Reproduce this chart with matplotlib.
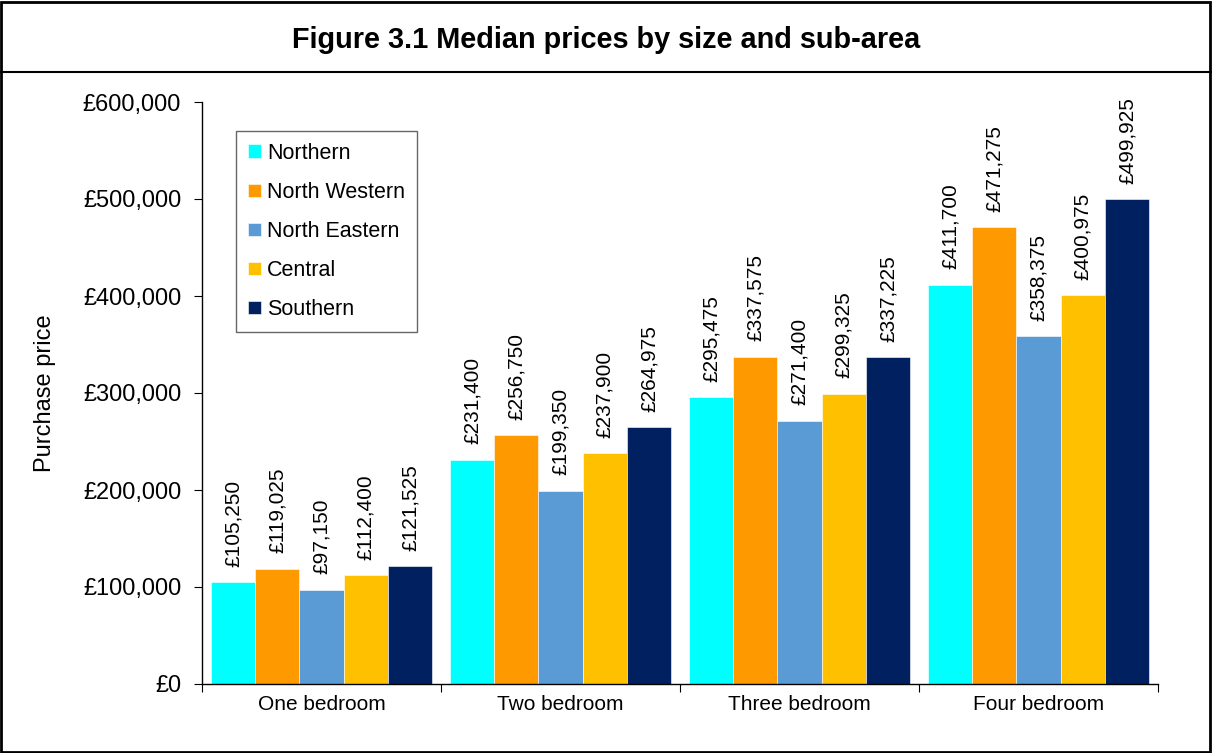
import numpy as np
import matplotlib.pyplot as plt
from matplotlib.lines import Line2D
from matplotlib.patches import Rectangle
from matplotlib.ticker import FuncFormatter, FixedLocator

plt.rc('font', family='Liberation Sans')

#### data
categories = ['One bedroom', 'Two bedroom', 'Three bedroom', 'Four bedroom']
areas = ['Northern', 'North Western', 'North Eastern', 'Central', 'Southern']
northern = [105250, 231400, 295475, 411700]
north_western = [119025, 256750, 337575, 471275]
north_eastern = [97150, 199350, 271400, 358375]
central = [112400, 237900, 299325, 400975]
southern = [121525, 264975, 337225, 499925]
series = [northern, north_western, north_eastern, central, southern]
colors = ['#00FFFF', '#FF9900', '#5B9BD5', '#FFC000', '#002060']

#### figure
fig = plt.figure(figsize=(12.12, 7.53), dpi=100)
ax = fig.add_axes([202/1212, 1-684/753, (1158-202)/1212, (684-102)/753])

bar_w = 0.185
x = np.arange(len(categories))
for i, (vals, col) in enumerate(zip(series, colors)):
    pos = x + (i - 2) * bar_w
    ax.bar(pos, vals, width=bar_w, color=col, edgecolor='white', linewidth=0.4, label=areas[i])
    for xp, v in zip(pos, vals):
        ax.annotate(f'£{v:,}', (xp, v), xytext=(0, 11), textcoords='offset points',
                    rotation=90, ha='center', va='bottom', fontsize=15)

ax.set_xlim(-0.5, len(categories) - 0.5)
ax.set_ylim(0, 600000)
ax.set_yticks(np.arange(0, 600001, 100000))
ax.yaxis.set_major_formatter(FuncFormatter(lambda v, p: f'£{int(v):,}'))
ax.tick_params(axis='y', labelsize=17, length=6, pad=9)

ax.xaxis.set_major_locator(FixedLocator(np.arange(-0.5, len(categories), 1)))
ax.xaxis.set_minor_locator(FixedLocator(x))
ax.set_xticklabels([], minor=False)
ax.set_xticklabels(categories, minor=True)
ax.tick_params(axis='x', which='major', length=6)
ax.tick_params(axis='x', which='minor', length=0, labelsize=15, pad=8)

ax.spines['top'].set_visible(False)
ax.spines['right'].set_visible(False)
for s in ['left', 'bottom']:
    ax.spines[s].set_linewidth(1)

ax.set_ylabel('Purchase price', fontsize=17, labelpad=19)

leg = ax.legend(loc='upper left', bbox_to_anchor=(34/956, 1-29/582), fontsize=15.5,
                frameon=True, fancybox=False, edgecolor='#404040', handlelength=0.6,
                handleheight=0.6, handletextpad=0.3, labelspacing=0.84, borderpad=0.55,
                borderaxespad=0)
leg.get_frame().set_linewidth(1)

#### title box
fig.text(0.5, 1-40/753, 'Figure 3.1 Median prices by size and sub-area',
         ha='center', va='center', fontsize=20.8, fontweight='bold')
fig.patches.append(Rectangle((0.001, 0.001), 0.997, 0.997, transform=fig.transFigure,
                             fill=False, lw=2, edgecolor='black'))
fig.lines.append(Line2D([0, 1], [1-72/753, 1-72/753], transform=fig.transFigure,
                        color='black', lw=1.5))

plt.savefig('out.png', dpi=100)
